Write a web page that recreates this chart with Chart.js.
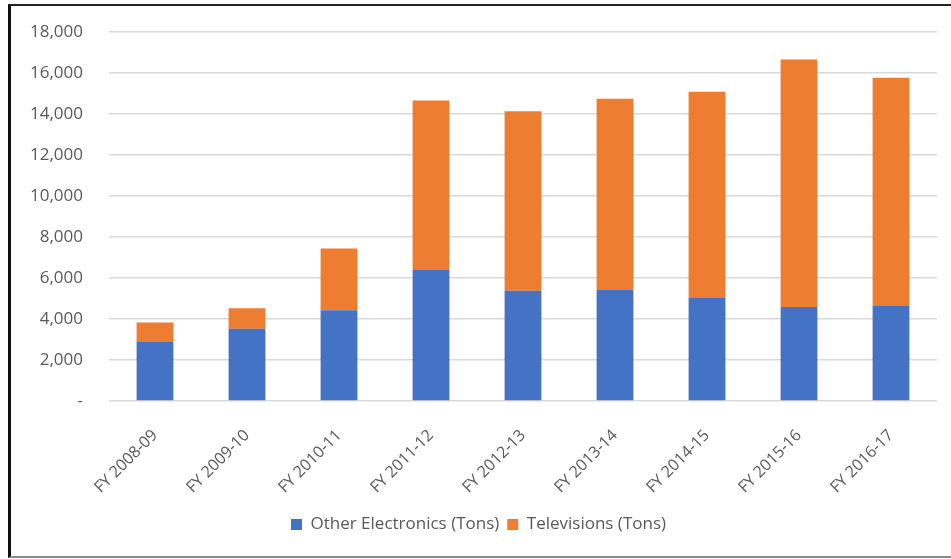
<!DOCTYPE html>
<html>
<head>
<meta charset="utf-8">
<script src="https://cdn.jsdelivr.net/npm/chart.js@4.4.0/dist/chart.umd.min.js"></script>
<style>
    html, body { margin: 0; padding: 0; background: #fff; }
    #frame {
        position: absolute; left: 8px; top: 4px; width: 960px; height: 550px;
        border-left: 3px solid #111; border-top: 2px solid #222; border-bottom: 2px solid #8c8c8c;
    }
    #wrap { position: absolute; left: 0; top: 0; width: 951px; height: 559px; }
</style>
</head>
<body>
<div id="frame"></div>
<div id="wrap"><canvas id="ewasteChart" width="951" height="559"></canvas></div>
<script>
// categories and series (tons)
const years = ['FY 2008-09', 'FY 2009-10', 'FY 2010-11', 'FY 2011-12', 'FY 2012-13',
    'FY 2013-14', 'FY 2014-15', 'FY 2015-16', 'FY 2016-17'];
const otherElectronics = [2880, 3520, 4430, 6390, 5380, 5440, 5020, 4590, 4640];
const televisions = [950, 1010, 3010, 8270, 8750, 9300, 10070, 12070, 11130];
const yTicks = [0, 2000, 4000, 6000, 8000, 10000, 12000, 14000, 16000, 18000];

const textColor = '#595959';
Chart.defaults.font.family = '"Open Sans", sans-serif';
Chart.defaults.color = textColor;

const ctx = document.getElementById('ewasteChart').getContext('2d');
new Chart(ctx, {
    type: 'bar',
    data: {
        labels: years,
        datasets: [{
            label: 'Other Electronics (Tons)',
            data: otherElectronics,
            backgroundColor: '#4472C4',
            categoryPercentage: 0.4,
            barPercentage: 1
        }, {
            label: 'Televisions (Tons)',
            data: televisions,
            backgroundColor: '#ED7D31',
            categoryPercentage: 0.4,
            barPercentage: 1
        }]
    },
    options: {
        responsive: false,
        animation: false,
        layout: { padding: { left: 20, right: 14, top: 32, bottom: 16 } },
        plugins: {
            tooltip: { enabled: false },
            legend: {
                position: 'bottom',
                labels: { boxWidth: 11, boxHeight: 11, padding: 8, font: { size: 17 }, color: textColor }
            }
        },
        scales: {
            x: {
                stacked: true,
                grid: { display: false },
                border: { display: false },
                ticks: { autoSkip: false, minRotation: 45, maxRotation: 45, font: { size: 16 }, color: textColor, padding: 17 },
                afterFit: function (scale) { scale.height = 107; }
            },
            y: {
                stacked: true,
                min: 0,
                max: 18000,
                afterBuildTicks: function (scale) {
                    scale.ticks = yTicks.map(v => ({ value: v }));
                },
                grid: { color: '#d9d9d9', lineWidth: 1.5, drawTicks: false },
                border: { display: false },
                ticks: {
                    padding: 26,
                    font: { size: 17 },
                    color: textColor,
                    callback: function (value) {
                        return value === 0 ? '-' : value.toLocaleString('en-US');
                    }
                },
                afterFit: function (scale) {
                    scale.width = 89;
                    scale.paddingTop = 0;
                    scale.paddingBottom = 0;
                }
            }
        }
    }
});
</script>
</body>
</html>
